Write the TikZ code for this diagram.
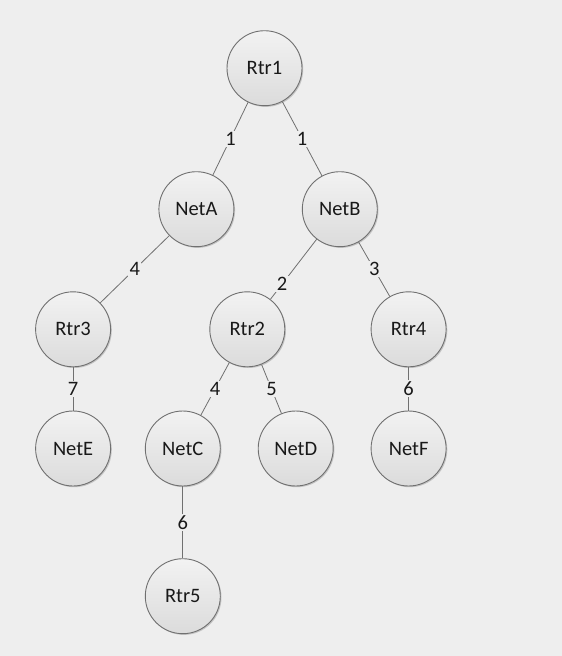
\documentclass[tikz,border=0pt]{standalone}
\usepackage{fontspec}
\setmainfont{Carlito}
\usetikzlibrary{shadows,calc}
\definecolor{bg}{HTML}{EEEEEE}
\definecolor{edgec}{HTML}{707070}
\begin{document}
\begin{tikzpicture}[x=1pt,y=-1pt,
  nd/.style={circle,draw=edgec,line width=0.9pt,minimum size=75pt,inner sep=0pt,
    top color=white!95!black,bottom color=white!86!black,
    drop shadow={shadow xshift=1.2pt,shadow yshift=-1.2pt,opacity=0.18,fill=black},
    font=\fontsize{20.5}{24}\selectfont,text=black!90},
  ln/.style={draw=edgec,line width=0.8pt},
  lbl/.style={fill=bg,inner sep=1.5pt,font=\fontsize{20.5}{24}\selectfont,text=black!90}]
\fill[bg] (0,0) rectangle (562,656);
\useasboundingbox (0,0) rectangle (562,656);
\node[nd] (rtr1) at (264.5,68.2) {Rtr1};
\node[nd] (neta) at (196.4,209.2) {NetA};
\node[nd] (netb) at (339.8,209.2) {NetB};
\node[nd] (rtr3) at (73.1,329.3) {Rtr3};
\node[nd] (rtr2) at (247.3,329.3) {Rtr2};
\node[nd] (rtr4) at (408.6,329.3) {Rtr4};
\node[nd] (nete) at (73.1,448.5) {NetE};
\node[nd] (netc) at (182.8,448.5) {NetC};
\node[nd] (netd) at (295.7,448.5) {NetD};
\node[nd] (netf) at (408.6,448.5) {NetF};
\node[nd] (rtr5) at (182.8,596.2) {Rtr5};
\begin{scope}[on background layer/.style={}]
\draw[ln] (rtr1) -- (neta);
\draw[ln] (rtr1) -- (netb);
\draw[ln] (neta) -- (rtr3);
\draw[ln] (netb) -- (rtr2);
\draw[ln] (netb) -- (rtr4);
\draw[ln] (rtr3) -- (nete);
\draw[ln] (rtr2) -- (netc);
\draw[ln] (rtr2) -- (netd);
\draw[ln] (rtr4) -- (netf);
\draw[ln] (netc) -- (rtr5);
\end{scope}
\node[lbl] (l1) at ($(rtr1)!0.5!(neta)$) {1};
\node[lbl] (l2) at ($(rtr1)!0.5!(netb)$) {1};
\node[lbl] (l3) at ($(neta)!0.5!(rtr3)$) {4};
\node[lbl] (l4) at ($(netb)!0.625!(rtr2)$) {2};
\node[lbl] (l5) at ($(netb)!0.5!(rtr4)$) {3};
\node[lbl] (l6) at ($(rtr3)!0.5!(nete)$) {7};
\node[lbl] (l7) at ($(rtr2)!0.5!(netc)$) {4};
\node[lbl] (l8) at ($(rtr2)!0.5!(netd)$) {5};
\node[lbl] (l9) at ($(rtr4)!0.5!(netf)$) {6};
\node[lbl] (l10) at ($(netc)!0.5!(rtr5)$) {6};
\end{tikzpicture}
\end{document}
